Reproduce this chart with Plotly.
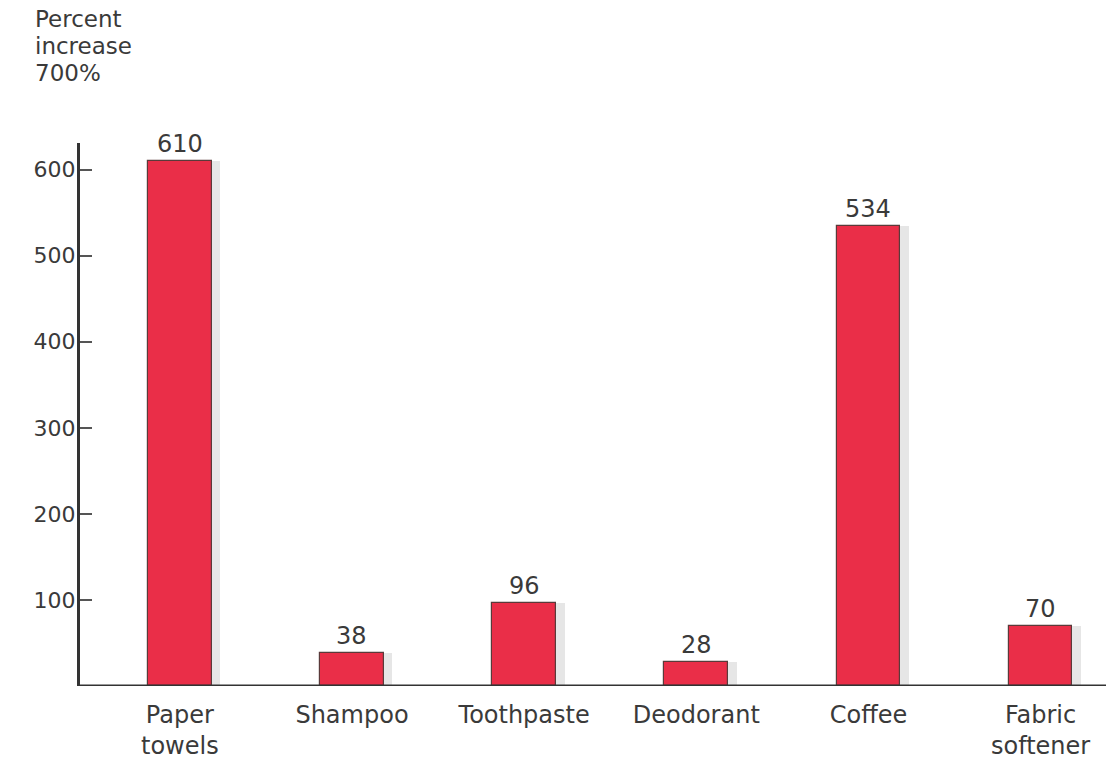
import plotly.graph_objects as go

categories = ["Paper<br>towels", "Shampoo", "Toothpaste", "Deodorant", "Coffee", "Fabric<br>softener"]
increase_pct = [610, 38, 96, 28, 534, 70]
y_ticks = [100, 200, 300, 400, 500, 600]
title_lines = ["Percent", "increase", "700%"]

FONT = "DejaVu Sans, Verdana, sans-serif"
INK = "#3a3a3a"
BAR_W = 0.37
xs = list(range(len(categories)))

fig = go.Figure()

# soft drop shadow behind each bar
fig.add_trace(go.Bar(
    x=xs, y=increase_pct,
    width=BAR_W + 0.02, offset=-BAR_W / 2 + 0.03,
    marker=dict(color="rgba(60,60,60,0.13)", line=dict(width=0)),
    hoverinfo="skip", showlegend=False,
))

fig.add_trace(go.Bar(
    x=xs, y=increase_pct,
    width=BAR_W,
    marker=dict(color="#EA2E48", line=dict(color="#5a3a3a", width=1.2)),
    hoverinfo="x+y", showlegend=False,
))

# value labels sitting just above each bar
value_anns = [dict(
    text=str(v), x=x, y=v, xref="x", yref="y",
    xanchor="center", yanchor="bottom", yshift=1, showarrow=False,
    font=dict(family=FONT, size=24, color=INK),
) for x, v in zip(xs, increase_pct)]

# three-line axis caption above the value axis
title_anns = [dict(
    text=line, xref="paper", yref="paper",
    x=-0.046, y=1.256 - i * 27 / 543, xanchor="left", yanchor="top", align="left",
    showarrow=False, font=dict(family=FONT, size=23, color=INK),
) for i, line in enumerate(title_lines)]

fig.update_layout(
    width=1106, height=759,
    margin=dict(l=80, r=0, t=143, b=73, autoexpand=False),
    paper_bgcolor="white", plot_bgcolor="white",
    font=dict(family=FONT, size=23, color=INK),
    barmode="overlay",
    bargap=0,
    xaxis=dict(
        range=[-0.58, 5.38],
        tickmode="array", tickvals=xs, ticktext=categories,
        showgrid=False, zeroline=False, ticks="",
        showline=False, automargin=False,
        tickfont=dict(family=FONT, size=24, color=INK),
        ticklabelstandoff=12,
    ),
    yaxis=dict(
        range=[0, 631],
        tickmode="array", tickvals=y_ticks,
        showgrid=False, zeroline=False, automargin=False,
        ticks="inside", ticklen=12, tickwidth=1.5, tickcolor="#555555",
        showline=True, linecolor="#333333", linewidth=3,
        tickfont=dict(family=FONT, size=22, color=INK),
        ticklabelstandoff=-3,
    ),
    shapes=[dict(type="line", xref="paper", yref="y", x0=0, x1=1, y0=0, y1=0,
                 line=dict(color="#333333", width=3))],
    annotations=title_anns + value_anns,
)

fig.write_html("out.html")
